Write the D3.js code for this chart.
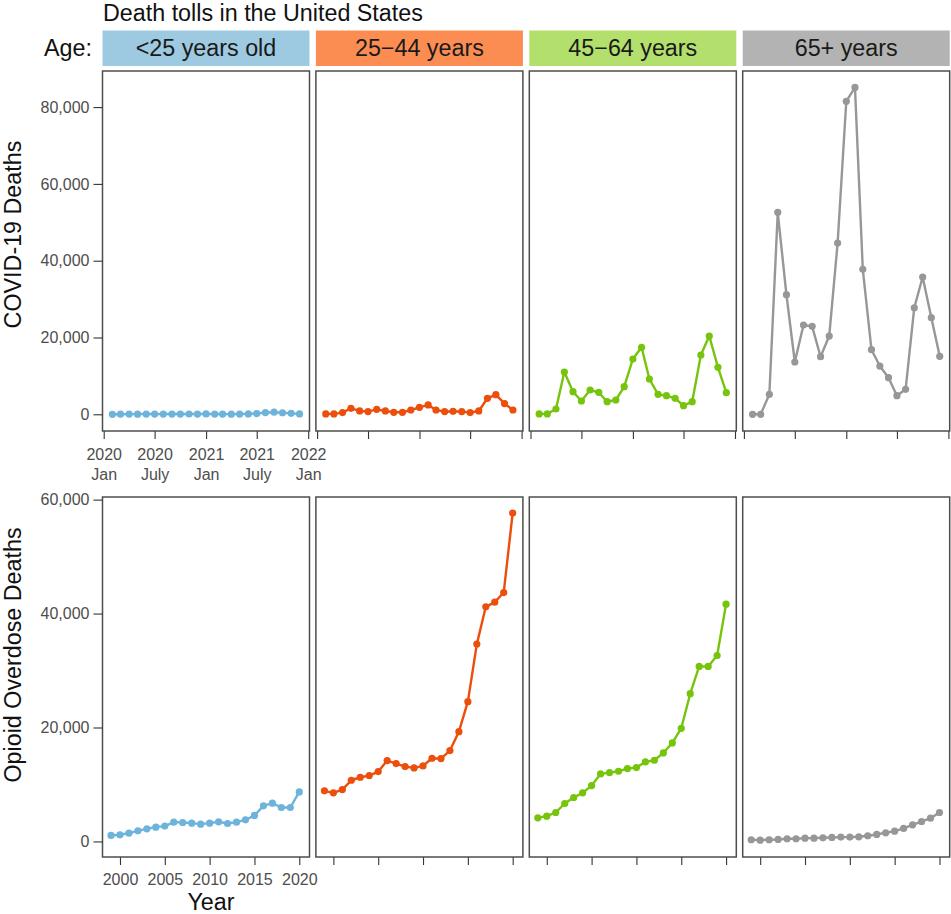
<!DOCTYPE html>
<html>
<head>
<meta charset="utf-8">
<script src="https://cdn.jsdelivr.net/npm/d3@7"></script>
<style>
  body { margin: 0; background: #fff; }
  text { font-family: "Liberation Sans", Arial, sans-serif; }
</style>
</head>
<body>
<script>
// page size
var width = 951,
	height = 914;

// age groups, one column of panels each
var ages = ["<25 years old", "25\u221244 years", "45\u221264 years", "65+ years"];
var stripColors = ["#9ecae1", "#fc8d52", "#b3e06c", "#b3b3b3"];
var lineColors = ["#6db3da", "#ec4e0c", "#76c40b", "#979797"];

// monthly covid deaths, Feb 2020 .. Dec 2021
var covidMonths = ["2020-02", "2020-03", "2020-04", "2020-05", "2020-06", "2020-07",
	"2020-08", "2020-09", "2020-10", "2020-11", "2020-12", "2021-01", "2021-02",
	"2021-03", "2021-04", "2021-05", "2021-06", "2021-07", "2021-08", "2021-09",
	"2021-10", "2021-11", "2021-12"];
var covidUnder25 = [0, 20, 50, 40, 60, 50, 70, 60, 60, 80, 70, 90, 70, 50, 40, 60,
	100, 200, 450, 550, 400, 250, 100];
var covid25to44 = [100, 100, 440, 1560, 870, 700, 1300, 870, 520, 520, 1120, 1820,
	2430, 1120, 700, 780, 700, 440, 870, 4170, 5120, 2780, 1120];
var covid45to64 = [100, 100, 1380, 11010, 5890, 3460, 6330, 5720, 3280, 3720, 7190,
	14400, 17440, 9190, 5200, 4840, 4160, 2240, 3280, 15440, 20380, 12240, 5630];
var covid65plus = [0, 0, 5200, 52590, 31140, 13620, 23250, 22910, 15000, 20380,
	44600, 81490, 85130, 37750, 16820, 12570, 9530, 4840, 6510, 27750, 35750, 25150, 15100];

// yearly opioid overdose deaths, 1999 .. 2020
var opioidYears = [1999, 2000, 2001, 2002, 2003, 2004, 2005, 2006, 2007, 2008, 2009,
	2010, 2011, 2012, 2013, 2014, 2015, 2016, 2017, 2018, 2019, 2020];
var opioidUnder25 = [1050, 1170, 1460, 1870, 2220, 2510, 2690, 3390, 3330, 3210, 3040,
	3210, 3450, 3150, 3390, 3800, 4560, 6250, 6720, 5960, 5960, 8700];
var opioid25to44 = [8880, 8530, 9110, 10740, 11270, 11560, 12270, 14190, 13670, 13140,
	12910, 13260, 14600, 14540, 15950, 19270, 24530, 34640, 41180, 42000, 43690, 57650];
var opioid45to64 = [4150, 4440, 5080, 6660, 7710, 8530, 9810, 11860, 12090, 12320,
	12790, 12970, 13960, 14250, 15540, 17290, 19860, 25930, 30720, 30720, 32640, 41650];
var opioid65plus = [300, 230, 300, 350, 470, 470, 580, 580, 640, 700, 760, 760, 820,
	1000, 1230, 1520, 1810, 2280, 2920, 3500, 4090, 5080];

// tick labels
var covidTicks = ["2020-01", "2020-07", "2021-01", "2021-07", "2022-01"];
var covidTickLabels = [["2020", "Jan"], ["2020", "July"], ["2021", "Jan"], ["2021", "July"], ["2022", "Jan"]];
var opioidTicks = [2000, 2005, 2010, 2015, 2020];
var covidYTicks = [0, 20000, 40000, 60000, 80000];
var opioidYTicks = [0, 20000, 40000, 60000];

var covidSeries = [covidUnder25, covid25to44, covid45to64, covid65plus];
var opioidSeries = [opioidUnder25, opioid25to44, opioid45to64, opioid65plus];

// panel layout
var panelX0 = 102.5,
	panelStep = 213.4,
	panelW = 207;

var bigFont = "23.3px";

var parseMonth = d3.timeParse("%Y-%m");

var svg = d3.select("body").append("svg")
	.attr("width", width)
	.attr("height", height);

// scales
var xCovid = d3.scaleTime()
	.domain([parseMonth("2020-01"), parseMonth("2022-01")])
	.range([1.2, panelW - 1.3]);
var xOpioid = d3.scaleLinear()
	.domain([1998.05, 2021.14])
	.range([0, panelW]);
var yCovid = d3.scaleLinear().domain([-4350, 89400]).range([431, 71]);
var yOpioid = d3.scaleLinear().domain([-2730, 60460]).range([857, 497]);

var rows = [
	{ x: xCovid, y: yCovid, keys: covidMonths.map(parseMonth), series: covidSeries,
		xticks: covidTicks.map(parseMonth), yticks: covidYTicks },
	{ x: xOpioid, y: yOpioid, keys: opioidYears, series: opioidSeries,
		xticks: opioidTicks, yticks: opioidYTicks }
];

// title and strips
svg.append("text")
	.attr("x", 103).attr("y", 21)
	.style("font-size", bigFont).attr("fill", "#111")
	.text("Death tolls in the United States");

svg.append("text")
	.attr("x", 92).attr("y", 56)
	.attr("text-anchor", "end")
	.style("font-size", bigFont).attr("fill", "#111")
	.text("Age:");

ages.forEach(function(a, i) {
	var left = panelX0 + i * panelStep;
	svg.append("rect")
		.attr("x", left).attr("y", 30.5)
		.attr("width", panelW).attr("height", 35.5)
		.attr("fill", stripColors[i]);
	svg.append("text")
		.attr("x", left + panelW / 2).attr("y", 56)
		.attr("text-anchor", "middle")
		.style("font-size", bigFont).attr("fill", "#1a1a1a")
		.text(a);
});

// panels
rows.forEach(function(row, r) {
	var top = row.y.range()[1],
		bottom = row.y.range()[0];

	row.series.forEach(function(vals, i) {
		var left = panelX0 + i * panelStep;
		var g = svg.append("g").attr("transform", "translate(" + left + ",0)");

		g.append("rect")
			.attr("x", 0).attr("y", top)
			.attr("width", panelW).attr("height", bottom - top)
			.attr("fill", "#fff");

		var pts = vals.map(function(v, k) { return [row.keys[k], v]; });

		var line = d3.line()
			.x(function(d) { return row.x(d[0]); })
			.y(function(d) { return row.y(d[1]); });

		g.append("path")
			.datum(pts)
			.attr("d", line)
			.attr("fill", "none")
			.attr("stroke", lineColors[i])
			.attr("stroke-width", 2.4)
			.attr("stroke-linejoin", "round");

		g.selectAll("circle")
			.data(pts)
			.enter().append("circle")
			.attr("cx", function(d) { return row.x(d[0]); })
			.attr("cy", function(d) { return row.y(d[1]); })
			.attr("r", 3.6)
			.attr("fill", lineColors[i]);

		// bottom ticks, labels only in the first column
		var axis = d3.axisBottom(row.x)
			.tickValues(row.xticks)
			.tickSize(8)
			.tickPadding(9)
			.tickFormat(i === 0 && r === 1 ? d3.format("d") : "");
		var ax = g.append("g")
			.attr("transform", "translate(0," + bottom + ")")
			.call(axis);
		ax.select(".domain").remove();
		ax.selectAll(".tick line").attr("stroke", "#333").attr("stroke-width", 1.1);
		ax.selectAll(".tick text")
			.style("font-size", "16px")
			.style("font-family", "'Liberation Sans', Arial, sans-serif")
			.attr("fill", "#4d4d4d");

		if (i === 0 && r === 0) {
			ax.selectAll(".tick").each(function(d, k) {
				var t = d3.select(this).append("text")
					.attr("text-anchor", "middle")
					.attr("fill", "#4d4d4d")
					.style("font-size", "16px")
					.style("font-family", "'Liberation Sans', Arial, sans-serif");
				t.append("tspan").attr("x", 0).attr("y", 29).text(covidTickLabels[k][0]);
				t.append("tspan").attr("x", 0).attr("y", 49).text(covidTickLabels[k][1]);
			});
		}

		// frame
		g.append("rect")
			.attr("x", 0).attr("y", top)
			.attr("width", panelW).attr("height", bottom - top)
			.attr("fill", "none")
			.attr("stroke", "#4d4d4d")
			.attr("stroke-width", 1.5);
	});

	// shared y axis on the left
	var yAxis = d3.axisLeft(row.y)
		.tickValues(row.yticks)
		.tickSize(9)
		.tickPadding(4)
		.tickFormat(d3.format(","));
	var ay = svg.append("g")
		.attr("transform", "translate(" + panelX0 + ",0)")
		.call(yAxis);
	ay.select(".domain").remove();
	ay.selectAll(".tick line").attr("stroke", "#333").attr("stroke-width", 1.1);
	ay.selectAll(".tick text")
		.style("font-size", "16px")
		.style("font-family", "'Liberation Sans', Arial, sans-serif")
		.attr("fill", "#4d4d4d");
});

// axis titles
svg.append("text")
	.attr("transform", "translate(21,234.5) rotate(-90)")
	.attr("text-anchor", "middle")
	.style("font-size", bigFont).attr("fill", "#111")
	.text("COVID-19 Deaths");

svg.append("text")
	.attr("transform", "translate(21,655) rotate(-90)")
	.attr("text-anchor", "middle")
	.style("font-size", bigFont).attr("fill", "#111")
	.text("Opioid Overdose Deaths");

svg.append("text")
	.attr("x", 211).attr("y", 910)
	.attr("text-anchor", "middle")
	.style("font-size", bigFont).attr("fill", "#111")
	.text("Year");
</script>
</body>
</html>
